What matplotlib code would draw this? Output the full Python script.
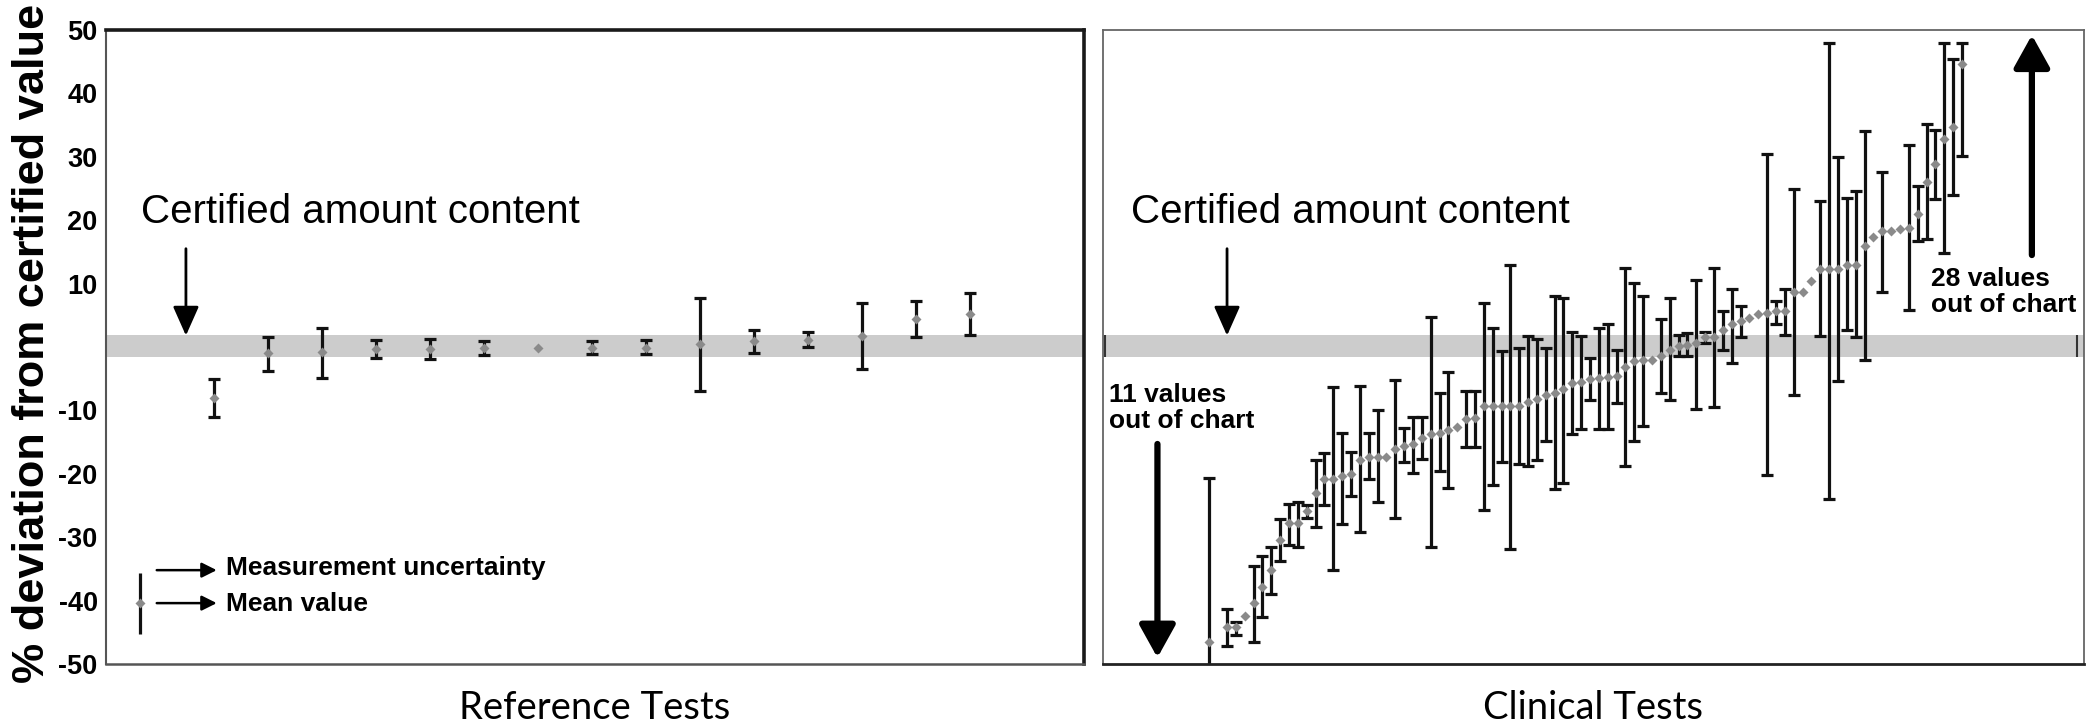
import numpy as np
import matplotlib.pyplot as plt
from matplotlib.patches import ArrowStyle

plt.rcParams['font.family'] = ['Liberation Sans', 'DejaVu Sans']

# ---- Reference tests: mean and uncertainty interval (% deviation) ----
ref_mean = [-8.0, -0.95, -0.8, -0.25, -0.25, -0.15, -0.15, -0.15, -0.15,
            0.5, 0.9, 1.15, 1.75, 4.35, 5.25]
ref_low = [-11.05, -3.85, -4.85, -1.7, -1.85, -1.3, np.nan, -1.15, -1.15,
           -7.0, -0.95, 0.0, -3.5, 1.5, 1.85]
ref_high = [-5.1, 1.6, 3.0, 1.05, 1.25, 0.9, np.nan, 0.9, 1.05,
            7.8, 2.6, 2.35, 6.95, 7.25, 8.5]

# ---- Clinical tests, ranked (slot 2 is empty) ----
clin_mean = [-46.6, np.nan, -44.2, -44.2, -42.4, -40.4, -37.8, -35.1, -30.5, -27.8,
             -27.8, -25.9, -23.0, -20.8, -20.8, -20.4, -20.1, -17.8, -17.3, -17.3,
             -17.3, -16.1, -15.6, -15.3, -14.3, -13.8, -13.5, -13.1, -12.6, -11.3,
             -11.2, -9.3, -9.3, -9.3, -9.3, -9.3, -8.7, -8.2, -7.5, -7.2,
             -6.7, -5.7, -5.6, -5.0, -4.9, -4.7, -4.5, -3.2, -2.2, -2.1,
             -2.1, -1.4, -0.4, 0.1, 0.3, 0.6, 1.5, 1.5, 2.6, 3.6,
             4.1, 4.6, 5.2, 5.4, 5.6, 5.6, 8.7, 8.7, 10.4, 12.3,
             12.3, 12.3, 13.0, 13.0, 16.0, 17.3, 18.3, 18.3, 18.6, 18.8,
             21.0, 26.1, 28.9, 32.8, 34.7, 44.7]
clin_low = [-52.0, np.nan, -47.2, -45.4, np.nan, -46.6, -42.6, -38.9, -33.8, -31.2,
            -31.6, -26.9, -28.4, -24.9, -35.1, -28.0, -23.5, -29.2, -20.9, -24.4,
            np.nan, -26.9, -18.1, -19.8, -17.6, -31.5, -19.6, -22.2, np.nan, -15.8,
            -15.8, -25.7, -21.8, -18.1, -31.8, -18.5, -18.8, -17.8, -14.9, -22.4,
            -21.4, -13.8, -13.0, -8.3, -13.0, -12.9, -8.9, -18.8, -14.8, -12.4,
            np.nan, -7.3, -8.3, -1.5, -1.4, -9.8, 0.6, -9.5, -0.4, -2.5,
            1.5, np.nan, np.nan, -20.2, 3.6, 1.9, -7.5, np.nan, np.nan, 1.7,
            -23.9, -5.4, 2.6, 1.6, -2.1, np.nan, 8.7, np.nan, np.nan, 5.8,
            16.7, 17.0, 23.4, 14.9, 23.9, 30.2]
clin_high = [-20.6, np.nan, -41.3, -43.3, np.nan, -34.6, -33.0, -31.5, -27.2, -24.7,
             -24.4, -24.9, -17.9, -16.7, -6.3, -13.5, -16.6, -6.1, -13.5, -10.0,
             np.nan, -5.2, -12.8, -11.0, -11.0, 4.7, -7.3, -4.0, np.nan, -7.0,
             -7.0, 6.9, 3.0, -0.6, 13.0, -0.1, 1.7, 1.3, -0.1, 8.1,
             7.7, 2.4, 1.7, -1.7, 3.0, 3.7, -0.5, 12.4, 10.1, 8.1,
             np.nan, 4.4, 7.7, 1.9, 2.2, 10.5, 2.4, 12.4, 5.6, 9.2,
             6.5, np.nan, np.nan, 30.4, 7.3, 9.2, 24.9, np.nan, np.nan, 23.1,
             48.0, 30.0, 23.5, 24.6, 34.0, np.nan, 27.6, np.nan, np.nan, 31.8,
             25.4, 35.1, 34.3, 48.0, 45.4, 48.0]

band = (-1.65, 1.85)          # certified amount content
yticks = [50, 40, 30, 20, 10, -10, -20, -30, -40, -50]

fig = plt.figure(figsize=(20.86, 7.24), dpi=100)
ax1 = fig.add_axes([0.0508, 0.0829, 0.4688, 0.8757])
ax2 = fig.add_axes([0.5288, 0.0829, 0.4703, 0.8757])


def draw_series(ax, x, mean, low, high):
    x = np.asarray(x, float)
    mean = np.asarray(mean, float)
    low = np.asarray(low, float)
    high = np.asarray(high, float)
    has = ~np.isnan(low)
    ax.errorbar(x[has], mean[has], yerr=[mean[has] - low[has], high[has] - mean[has]],
                fmt='none', ecolor='#111111', elinewidth=2.3, capsize=4,
                capthick=2.3, zorder=2)
    ax.plot(x, mean, 'D', color='#8a8a8a', ms=5, mec='none', zorder=3)


def arrow(ax, xy_from, xy_to, lw, hl, hw, ms):
    ax.annotate('', xy=xy_to, xytext=xy_from,
                arrowprops=dict(arrowstyle=ArrowStyle('-|>', head_length=hl, head_width=hw),
                                color='black', lw=lw, mutation_scale=ms,
                                shrinkA=0, shrinkB=0))


for ax in (ax1, ax2):
    ax.set_ylim(-50, 50)
    ax.axhspan(band[0], band[1], color='#cccccc', lw=0, zorder=0)
    ax.set_xticks([])

# left panel
ref_x = np.arange(2, 2 + len(ref_mean))
draw_series(ax1, ref_x, ref_mean, ref_low, ref_high)
ax1.set_xlim(0, 18.1)
ax1.set_yticks(yticks)
ax1.set_yticklabels([str(t) for t in yticks], fontsize=19.5, fontweight='bold')
ax1.tick_params(axis='y', length=0, pad=6)
ax1.spines['top'].set(color='#1a1a1a', lw=2.6)
ax1.spines['right'].set(color='#1a1a1a', lw=2.6)
ax1.spines['left'].set(color='#555555', lw=1.5)
ax1.spines['bottom'].set(color='#555555', lw=1.8)

ax1.text(0.65, 19.6, 'Certified amount content', fontsize=29, va='baseline')
arrow(ax1, (1.48, 15.5), (1.48, 1.8), 2.0, 0.9, 0.4, 20)

# legend glyph for the error bars
ax1.vlines(0.63, -45.3, -35.7, color='#111111', lw=2.3)
ax1.plot(0.63, -40.4, 'D', color='#8a8a8a', ms=5, mec='none')
arrow(ax1, (0.94, -35.2), (2.05, -35.2), 1.8, 0.6, 0.3, 15)
arrow(ax1, (0.94, -40.4), (2.05, -40.4), 1.8, 0.6, 0.3, 15)
ax1.text(2.22, -34.8, 'Measurement uncertainty', fontsize=19, fontweight='bold', va='center')
ax1.text(2.22, -40.6, 'Mean value', fontsize=19, fontweight='bold', va='center')

# right panel
clin_x = np.arange(12, 12 + len(clin_mean))
draw_series(ax2, clin_x, clin_mean, clin_low, clin_high)
ax2.set_xlim(0, 110.8)
ax2.set_yticks([])
ax2.spines['top'].set(color='#666666', lw=1.3)
ax2.spines['right'].set(color='#666666', lw=1.3)
ax2.spines['left'].set(color='#666666', lw=1.3)
ax2.spines['bottom'].set(color='#222222', lw=2.0)
ax2.vlines([0.25, 110.0], band[0], band[1], colors='#333333', lw=1.5)

ax2.text(3.2, 19.6, 'Certified amount content', fontsize=29, va='baseline')
arrow(ax2, (14.0, 15.5), (14.0, 1.8), 2.0, 0.9, 0.4, 20)

ax2.text(0.63, -9.65, '11 values\nout of chart', fontsize=19, fontweight='bold',
         va='center', linespacing=1.1)
arrow(ax2, (6.14, -15.3), (6.14, -49.0), 4.5, 0.9, 0.5, 22)

ax2.text(93.5, 8.65, '28 values\nout of chart', fontsize=19, fontweight='bold',
         va='center', linespacing=1.1)
arrow(ax2, (104.9, 14.5), (104.9, 49.2), 4.5, 0.9, 0.5, 22)

# axis titles
fig.text(0.0155, 0.525, '% deviation from certified value', rotation=90,
         fontsize=32.5, fontweight='bold', ha='center', va='center')
fig.text(0.285, 0.022, 'Reference Tests', fontsize=27.5, family=['Lato', 'DejaVu Sans'],
         ha='center', va='center')
fig.text(0.7637, 0.022, 'Clinical Tests', fontsize=27.5, family=['Lato', 'DejaVu Sans'],
         ha='center', va='center')

fig.savefig('out.png', dpi=100)
